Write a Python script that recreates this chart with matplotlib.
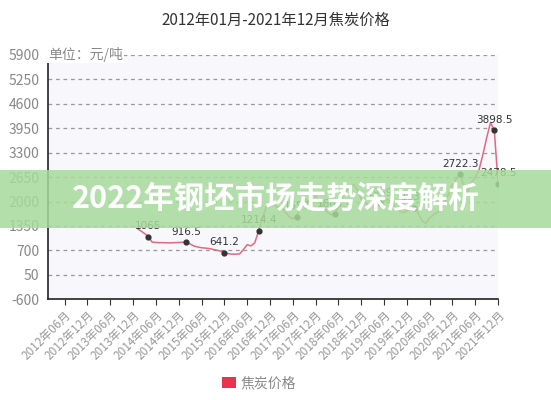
import numpy as np
import matplotlib
matplotlib.use("Agg")
import matplotlib.pyplot as plt
from matplotlib.patches import Rectangle, Patch

plt.rcParams['font.family'] = ['Noto Sans CJK SC', 'DejaVu Sans']

# month index 0 = 2012-01
tick_months = [5, 11, 17, 23, 29, 35, 41, 47, 53, 59, 65, 71, 77, 83, 89, 95, 101, 107, 113, 119]
tick_labels = ['2012年06月', '2012年12月', '2013年06月', '2013年12月', '2014年06月',
               '2014年12月', '2015年06月', '2015年12月', '2016年06月', '2016年12月',
               '2017年06月', '2017年12月', '2018年06月', '2018年12月', '2019年06月',
               '2019年12月', '2020年06月', '2020年12月', '2021年06月', '2021年12月']

first_month = 24  # 2014-01
price = [1290, 1220, 1150, 1065, 920, 910, 905, 905, 900, 900, 905, 910,
         915, 916.5, 870, 815, 790, 770, 760, 750, 725, 705, 680, 641.2,
         612, 600, 598, 605, 720, 850, 820, 900, 1214.4, 1550, 1850, 1980,
         1920, 1840, 1860, 1720, 1600, 1540, 1597, 1880, 2100, 2010, 1960, 2150,
         2020, 1860, 1720, 1650, 1664.4, 1860, 2100, 2260, 2380, 2450, 2310, 2060,
         1960, 1900, 1930, 2040, 1959, 2010, 2060, 1960, 1860, 1760, 1700, 1750,
         1800, 1836, 1680, 1480, 1420, 1560, 1650, 1710, 1800, 1980, 2200, 2450,
         2600, 2722.3, 2420, 2250, 2500, 2650, 2850, 3250, 3700, 4100, 3898.5, 2478.5]
marked = [27, 37, 47, 56, 66, 76, 88, 97, 109, 118, 119]

y_ticks = [-600, 50, 700, 1350, 2000, 2650, 3300, 3950, 4600, 5250, 5900]

months = np.arange(first_month, first_month + len(price))
price = np.array(price)

fig = plt.figure(figsize=(5.51, 4.0), dpi=100)
ax = fig.add_axes([0.087, 0.252, 0.817, 0.6105])
ax.set_facecolor('#f7f7fc')

ax.plot(months, price, color='#e4687f', lw=1.1, zorder=3)
mi = np.array(marked) - first_month
ax.scatter(months[mi], price[mi], s=12, color='#333333', zorder=4)
for m, v in zip(months[mi], price[mi]):
    ax.annotate(f"{v:g}", (m, v), xytext=(0, 4), textcoords='offset points',
                ha='center', va='bottom', fontsize=7.5, color='#333333',
                family=['DejaVu Sans'], zorder=5)

ax.set_xlim(0.6, 119)
ax.set_ylim(-600, 5900)
ax.set_yticks(y_ticks)
ax.set_yticklabels([str(t) for t in y_ticks], fontsize=10, color='#888888')
ax.tick_params(axis='y', length=0, pad=6)
ax.set_xticks(tick_months)
ax.set_xticklabels(tick_labels, rotation=45, ha='right', rotation_mode='anchor',
                   fontsize=8.5, color='#999999')
ax.tick_params(axis='x', length=4, color='#333333', pad=3)

for t in y_ticks[1:]:
    ax.axhline(t, color='#999999', lw=0.9, ls=(0, (3, 3)), zorder=1)

for s in ['top', 'right']:
    ax.spines[s].set_visible(False)
ax.spines['left'].set_color('#222222')
ax.spines['bottom'].set_color('#222222')
ax.spines['left'].set_linewidth(1.2)
ax.spines['bottom'].set_linewidth(1.2)

ax.text(0.0, 5900, '单位：元/吨', transform=ax.get_yaxis_transform(),
        fontsize=10, color='#888888', ha='left', va='center',
        bbox=dict(facecolor='white', edgecolor='none', pad=0.5))

fig.text(0.5, 0.948, '2012年01月-2021年12月焦炭价格', ha='center', va='center',
         fontsize=11, color='#333333')

fig.legend(handles=[Patch(facecolor='#e8334f', edgecolor='none')], labels=['焦炭价格'],
           loc='center', bbox_to_anchor=(0.47, 0.042), frameon=False, fontsize=10,
           handlelength=1.0, handleheight=0.8, handletextpad=0.3,
           labelcolor='#888888')

# banner overlay
fig.patches.append(Rectangle((0, 1 - 228 / 400), 1, 58 / 400, transform=fig.transFigure,
                             facecolor='#a6da9b', alpha=0.85, edgecolor='none', zorder=10))
fig.text(0.5, 1 - 199 / 400, '2022年钢坯市场走势深度解析', ha='center', va='center',
         fontsize=22, fontweight='bold', color='white', zorder=11)

fig.savefig('out.png', dpi=100)
